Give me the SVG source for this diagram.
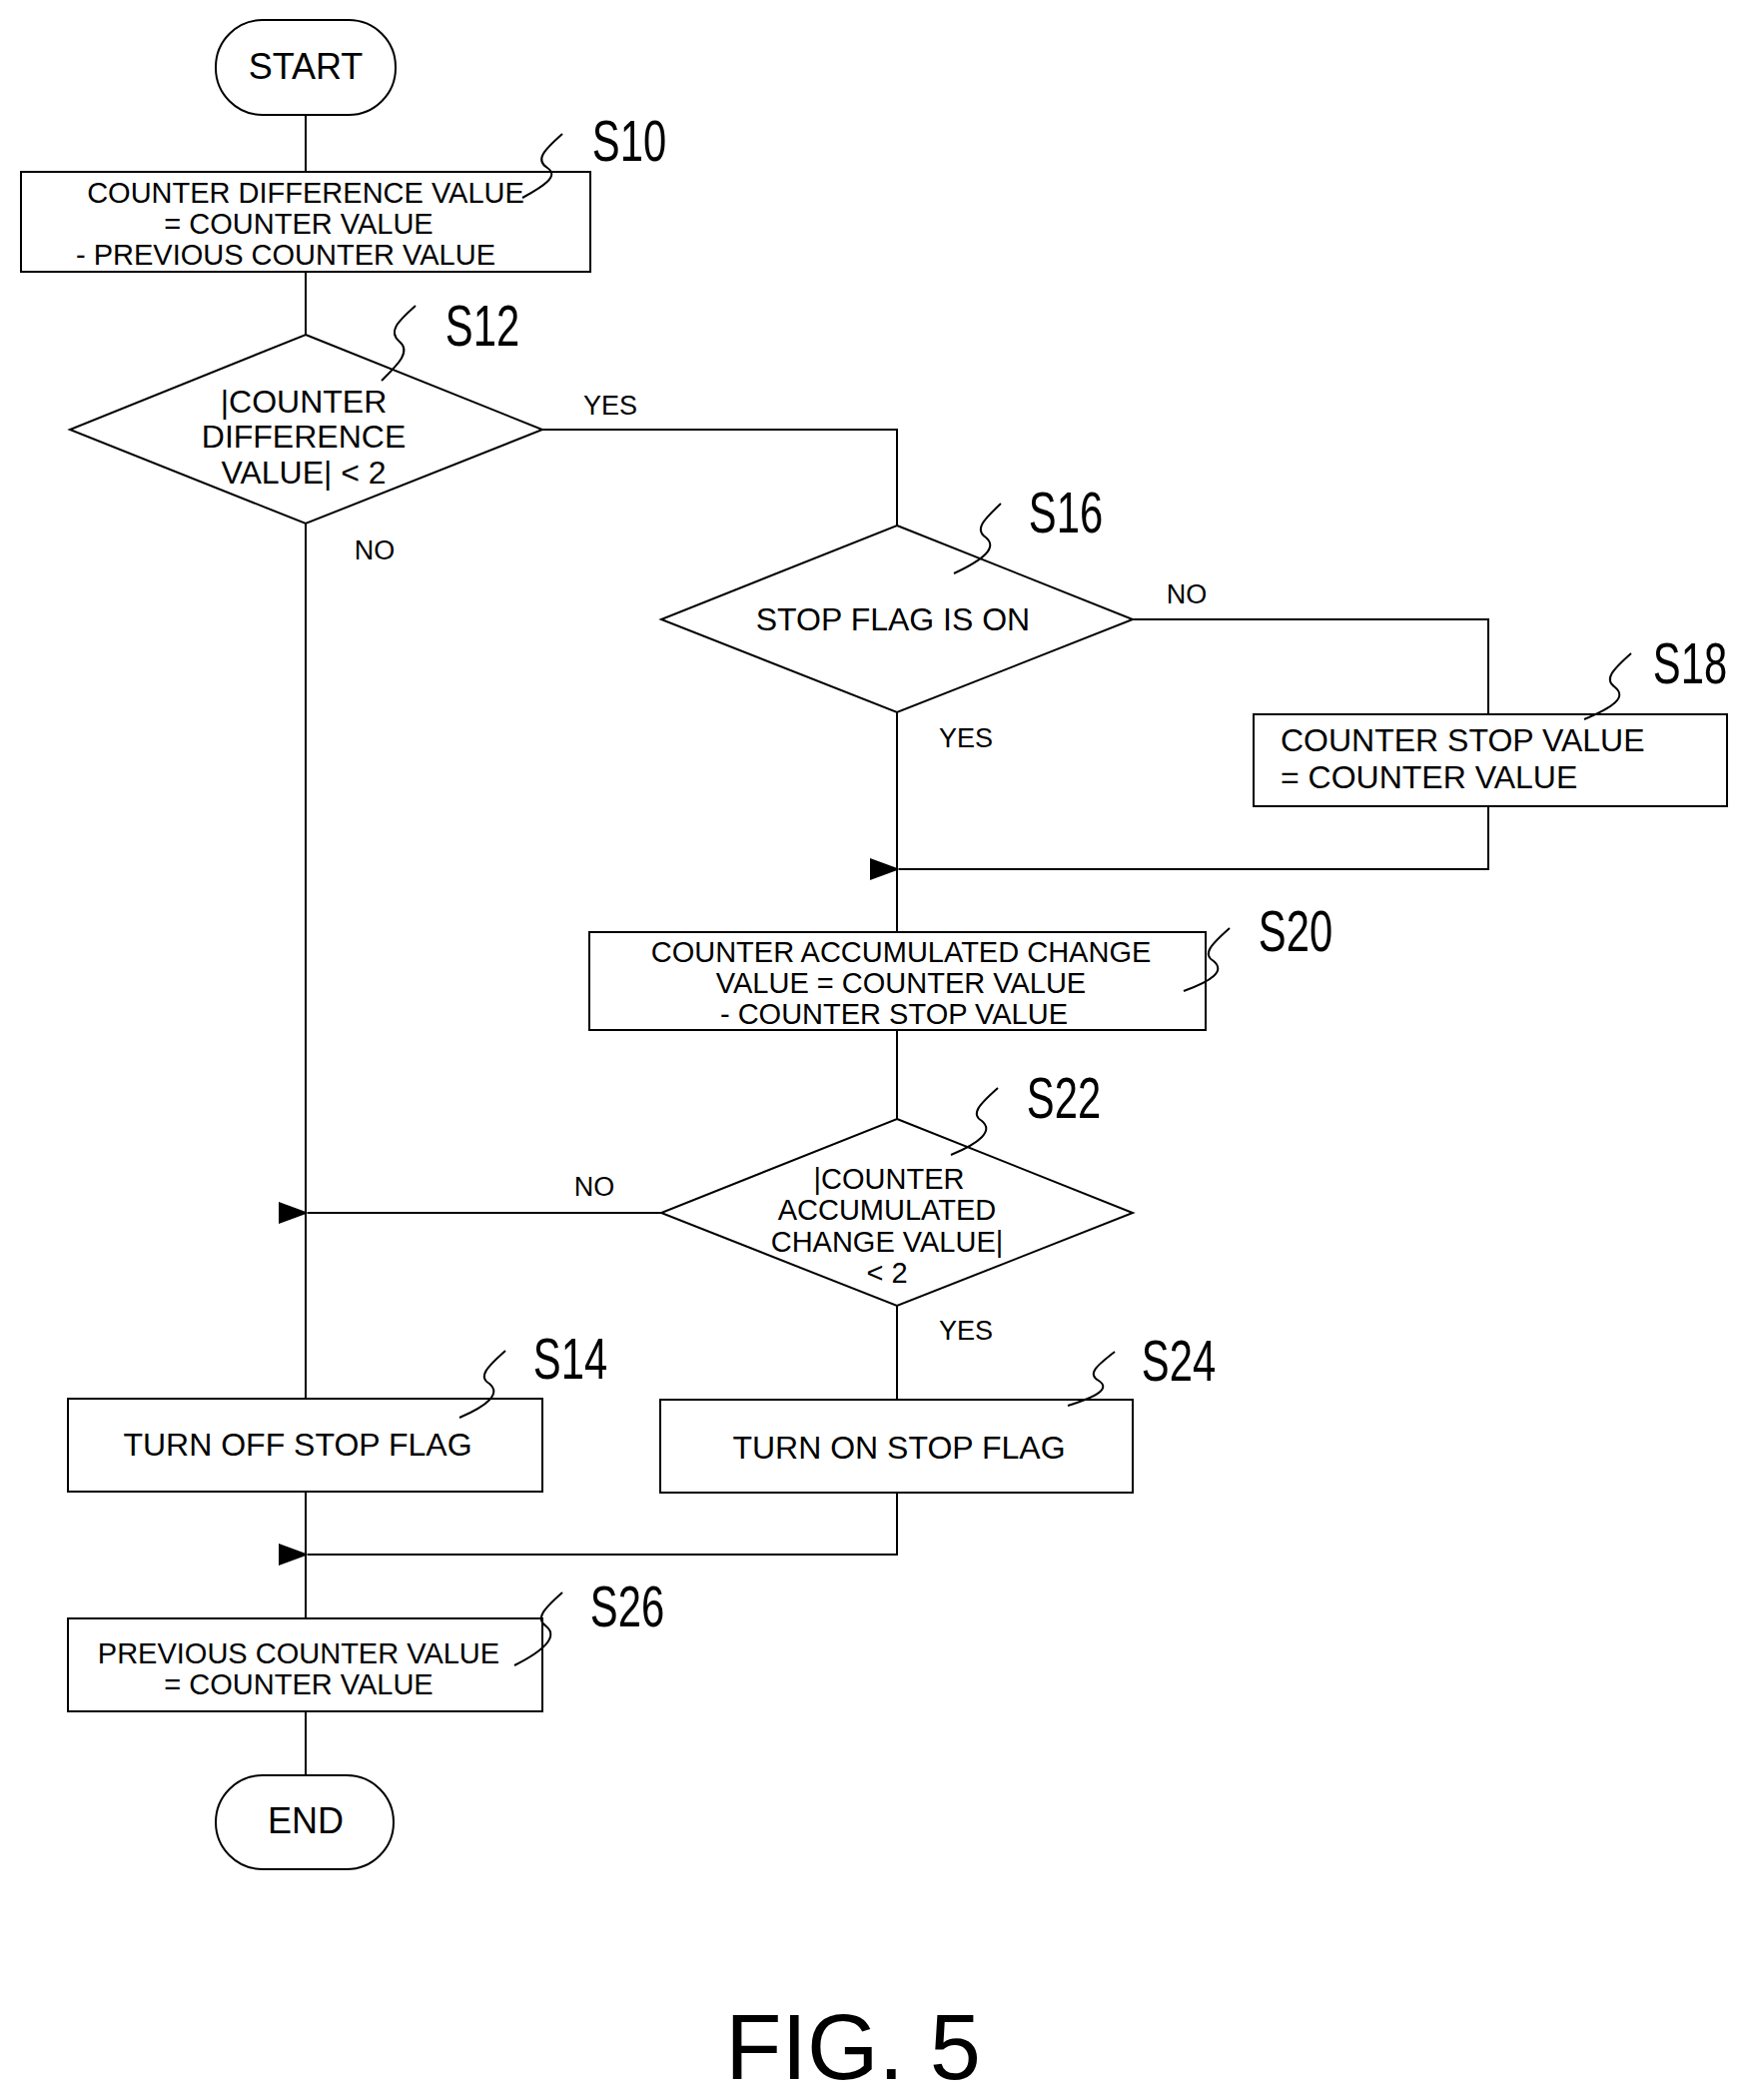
<svg xmlns="http://www.w3.org/2000/svg" width="1757" height="2102" viewBox="0 0 1757 2102">
<style>
.s{fill:#fff;stroke:#000;stroke-width:2}
.l{fill:none;stroke:#000;stroke-width:2}
text{font-family:"Liberation Sans",Arial,sans-serif;fill:#000}
.t{font-size:29px;text-anchor:middle}
.b{font-size:32px;text-anchor:middle}
.y{font-size:27px;text-anchor:middle}
.lab{font-size:58px;text-anchor:middle}
</style>
<defs>
<marker id="a" markerWidth="30" markerHeight="22" refX="1" refY="11" orient="auto" markerUnits="userSpaceOnUse"><path d="M30,0 L0,11 L30,22 Z" fill="#000"/></marker>
</defs>
<rect width="1757" height="2102" fill="#fff"/>
<g id="connectors">
<path class="l" d="M306,115 V172 M306,272 V335 M306,524 V1400 M306,1493 V1620 M306,1713 V1777"/>
<path class="l" d="M543,430 H898 V526"/>
<path class="l" d="M1134,620 H1490 V715"/>
<path class="l" d="M898,713 V933"/>
<path class="l" d="M1490,807 V870 H900" marker-end="url(#a)"/>
<path class="l" d="M898,1031 V1120"/>
<path class="l" d="M662,1214 H308" marker-end="url(#a)"/>
<path class="l" d="M898,1307 V1401"/>
<path class="l" d="M898,1494 V1556 H308" marker-end="url(#a)"/>
</g>
<g id="start"><rect class="s" x="216" y="20" width="180" height="95" rx="47"/><text class="b" x="306" y="79" style="font-size:36px">START</text></g>
<g id="S10"><rect class="s" x="21" y="172" width="570" height="100"/>
<text class="t" x="306" y="203">COUNTER DIFFERENCE VALUE</text><text class="t" x="299" y="234">= COUNTER VALUE</text><text class="t" x="286" y="265">- PREVIOUS COUNTER VALUE</text></g>
<g id="S12"><polygon class="s" points="306,335 543,430 306,524 70,430"/>
<text class="b" x="304" y="413">|COUNTER</text><text class="b" x="304" y="448">DIFFERENCE</text><text class="b" x="304" y="484">VALUE| &lt; 2</text></g>
<g id="S16"><polygon class="s" points="898,526 1134,620 898,713 662,620"/><text class="b" x="894" y="631">STOP FLAG IS ON</text></g>
<g id="S18"><rect class="s" x="1255" y="715" width="474" height="92"/>
<text style="font-size:32px" x="1282" y="752">COUNTER STOP VALUE</text><text style="font-size:32px" x="1282" y="789">= COUNTER VALUE</text></g>
<g id="S20"><rect class="s" x="590" y="933" width="617" height="98"/>
<text class="t" x="902" y="963">COUNTER ACCUMULATED CHANGE</text><text class="t" x="902" y="994">VALUE = COUNTER VALUE</text><text class="t" x="895" y="1025">- COUNTER STOP VALUE</text></g>
<g id="S22"><polygon class="s" points="898,1120 1134,1214 898,1307 662,1214"/>
<text class="t" x="890" y="1190">|COUNTER</text><text class="t" x="888" y="1221">ACCUMULATED</text><text class="t" x="888" y="1253">CHANGE VALUE|</text><text class="t" x="888" y="1284">&lt; 2</text></g>
<g id="S14"><rect class="s" x="68" y="1400" width="475" height="93"/><text class="b" x="298" y="1457">TURN OFF STOP FLAG</text></g>
<g id="S24"><rect class="s" x="661" y="1401" width="473" height="93"/><text class="b" x="900" y="1460">TURN ON STOP FLAG</text></g>
<g id="S26"><rect class="s" x="68" y="1620" width="475" height="93"/>
<text class="t" x="299" y="1665">PREVIOUS COUNTER VALUE</text><text class="t" x="299" y="1696">= COUNTER VALUE</text></g>
<g id="end"><rect class="s" x="216" y="1777" width="178" height="94" rx="47"/><text class="b" x="306" y="1835" style="font-size:36px">END</text></g>
<g id="edge-labels">
<text class="y" x="611" y="415">YES</text><text class="y" x="375" y="560">NO</text>
<text class="y" x="1188" y="604">NO</text><text class="y" x="967" y="748">YES</text>
<text class="y" x="595" y="1197">NO</text><text class="y" x="967" y="1341">YES</text>
</g>
<g id="step-labels">
<g class="lab">
<text class="lab" x="630" y="161" transform="translate(630 0) scale(0.72 1) translate(-630 0)">S10</text>
<text class="lab" x="483" y="346" transform="translate(483 0) scale(0.72 1) translate(-483 0)">S12</text>
<text class="lab" x="1067" y="533" transform="translate(1067 0) scale(0.72 1) translate(-1067 0)">S16</text>
<text class="lab" x="1692" y="684" transform="translate(1692 0) scale(0.72 1) translate(-1692 0)">S18</text>
<text class="lab" x="1297" y="952" transform="translate(1297 0) scale(0.72 1) translate(-1297 0)">S20</text>
<text class="lab" x="1065" y="1119" transform="translate(1065 0) scale(0.72 1) translate(-1065 0)">S22</text>
<text class="lab" x="571" y="1380" transform="translate(571 0) scale(0.72 1) translate(-571 0)">S14</text>
<text class="lab" x="1180" y="1382" transform="translate(1180 0) scale(0.72 1) translate(-1180 0)">S24</text>
<text class="lab" x="628" y="1628" transform="translate(628 0) scale(0.72 1) translate(-628 0)">S26</text>
</g>
<path class="l" stroke-width="1.5" d="M563,134 C545,150 535,160 548,168 C560,176 545,186 523,198"/>
<path class="l" stroke-width="1.5" d="M416,306 C398,322 388,332 400,342 C412,352 398,365 382,381"/>
<path class="l" stroke-width="1.5" d="M1002,504 C985,520 975,530 987,538 C999,548 985,560 955,574"/>
<path class="l" stroke-width="1.5" d="M1633,654 C1615,670 1605,680 1617,688 C1629,698 1615,708 1586,720"/>
<path class="l" stroke-width="1.5" d="M1231,929 C1213,945 1203,955 1215,962 C1227,972 1213,982 1185,992"/>
<path class="l" stroke-width="1.5" d="M999,1089 C981,1105 971,1115 983,1122 C995,1132 981,1144 952,1156"/>
<path class="l" stroke-width="1.5" d="M506,1352 C488,1368 478,1378 490,1385 C502,1395 488,1407 460,1419"/>
<path class="l" stroke-width="1.5" d="M1116,1353 C1098,1367 1088,1375 1100,1382 C1112,1390 1098,1398 1069,1407"/>
<path class="l" stroke-width="1.5" d="M563,1594 C545,1610 535,1620 547,1628 C559,1638 545,1652 515,1667"/>
</g>
<text x="854" y="2081" style="font-size:92px;text-anchor:middle">FIG. 5</text>
</svg>
